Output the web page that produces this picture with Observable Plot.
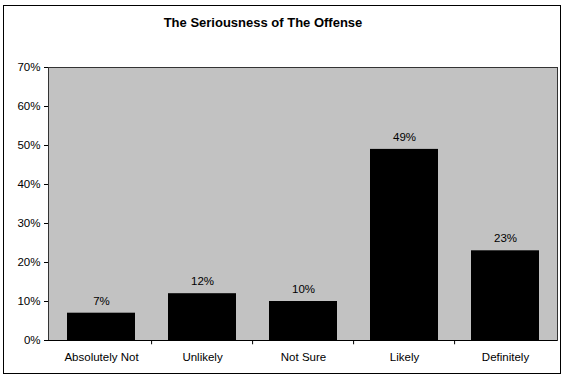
<!DOCTYPE html>
<html><head><meta charset="utf-8">
<script src="https://cdn.jsdelivr.net/npm/d3@7"></script>
<script src="https://cdn.jsdelivr.net/npm/@observablehq/plot@0.6"></script>
<style>
body{margin:0;background:#fff;}
#wrap{position:relative;width:566px;height:377px;}
#border{position:absolute;left:3px;top:5px;width:558px;height:369px;border:1px solid #000;box-sizing:border-box;pointer-events:none}
svg{position:absolute;left:0;top:0}
</style></head>
<body><div id="wrap"><div id="border"></div></div>
<script>
const categories = ["Absolutely Not", "Unlikely", "Not Sure", "Likely", "Definitely"];
const values = [7, 12, 10, 49, 23];
const valueLabels = ["7%", "12%", "10%", "49%", "23%"];
const yTicks = [0, 10, 20, 30, 40, 50, 60, 70];
const title = "The Seriousness of The Offense";

const data = categories.map((c, i) => ({category: c, value: values[i], label: valueLabels[i]}));

const chart = Plot.plot({
  width: 566, height: 377,
  marginTop: 67, marginBottom: 37, marginLeft: 48, marginRight: 9,
  style: {fontFamily: "'Liberation Sans', Arial, sans-serif", fontSize: "11.5px", color: "#000", background: "transparent"},
  x: {domain: categories, paddingInner: 0.33, paddingOuter: 0.165, label: null},
  y: {domain: [0, 70], ticks: yTicks, tickFormat: d => d + "%", label: null},
  marks: [
    Plot.frame({fill: "#c2c2c2", stroke: "#333"}),
    Plot.barY(data, {x: "category", y: "value", fill: "#000"}),
    Plot.text(data, {x: "category", y: "value", text: "label", dy: -12, lineAnchor: "middle", fontSize: 11.5}),
    Plot.ruleY([0], {stroke: "#000"}),
    Plot.ruleX(categories.slice(1), {x: d => d, dx: -50.9, y1: 0, y2: -1.1, stroke: "#000"}),
    Plot.axisY({ticks: yTicks, tickFormat: d => d + "%", tickSize: 4, tickPadding: 4, label: null, fontSize: 11.5}),
    Plot.axisX({tickSize: 0, tickPadding: 12, label: null, fontSize: 11.5}),
    Plot.text([title], {frameAnchor: "top", dx: -40, dy: -45, lineAnchor: "middle", fontWeight: "bold", fontSize: 13})
  ]
});
document.getElementById("wrap").appendChild(chart);
</script>
</body></html>
